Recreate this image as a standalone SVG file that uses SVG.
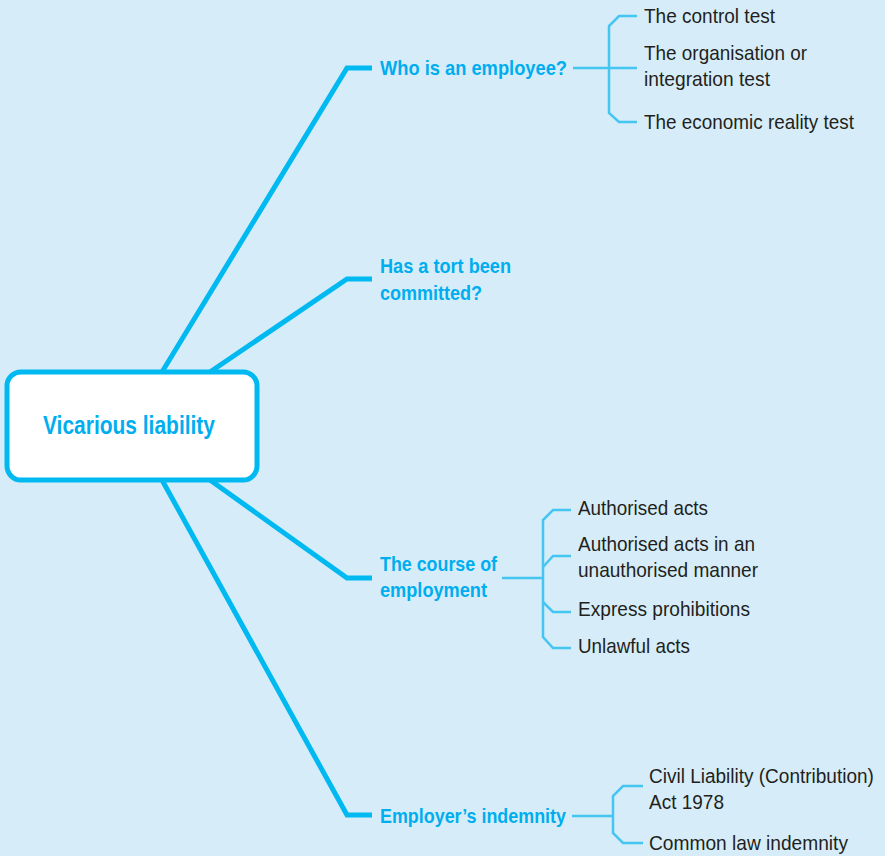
<svg xmlns="http://www.w3.org/2000/svg" width="885" height="856" viewBox="0 0 885 856">
<style>
.main{fill:none;stroke:#00b9f1;stroke-width:5;stroke-linejoin:miter}
.sub{fill:none;stroke:#45c5f2;stroke-width:2.5}
.h{font-family:"Liberation Sans Narrow","Liberation Sans",Arial,sans-serif;font-weight:bold;font-size:21px;fill:#00aeef}
.t{font-family:"Liberation Sans Narrow","Liberation Sans",Arial,sans-serif;font-size:21px;fill:#231f20}
.r{font-size:25px}
</style>
<rect x="0" y="0" width="885" height="856" fill="#d6edf9"/>
<g id="connectors">
<polyline class="main" points="162,372 347,68 372,68"/>
<polyline class="main" points="210,372 347,279 372,279"/>
<polyline class="main" points="210,480 347,578 372,578"/>
<polyline class="main" points="162,480 347,815 372,815"/>
<line class="sub" x1="573" y1="68" x2="637" y2="68"/>
<polyline class="sub" points="637,16 619,16 609,26 609,113 619,122 637,122"/>
<line class="sub" x1="502" y1="578" x2="543" y2="578"/>
<polyline class="sub" points="571,510 553,510 543,520 543,637 553,648 571,648"/>
<polyline class="sub" points="543,567 553,556 571,556"/>
<polyline class="sub" points="543,602 553,612 571,612"/>
<line class="sub" x1="572" y1="816" x2="613" y2="816"/>
<polyline class="sub" points="643,786 623,786 613,796 613,833 623,843 643,843"/>
</g>
<g id="root">
<rect x="7" y="372" width="250" height="108" rx="14" fill="#ffffff" stroke="#00b9f1" stroke-width="5"/>
<text class="h r" x="43" y="434" textLength="172" lengthAdjust="spacingAndGlyphs">Vicarious liability</text>
</g>
<g id="employee">
<text class="h" x="380" y="75" textLength="187" lengthAdjust="spacingAndGlyphs">Who is an employee?</text>
</g>
<g id="tort">
<text class="h" x="380" y="273" textLength="131" lengthAdjust="spacingAndGlyphs">Has a tort been</text>
<text class="h" x="380" y="300" textLength="102" lengthAdjust="spacingAndGlyphs">committed?</text>
</g>
<g id="course">
<text class="h" x="380" y="571" textLength="117" lengthAdjust="spacingAndGlyphs">The course of</text>
<text class="h" x="380" y="597" textLength="107" lengthAdjust="spacingAndGlyphs">employment</text>
</g>
<g id="indemnity">
<text class="h" x="380" y="823" textLength="186" lengthAdjust="spacingAndGlyphs">Employer’s indemnity</text>
</g>
<g id="control">
<text class="t" x="644" y="23" textLength="131" lengthAdjust="spacingAndGlyphs">The control test</text>
</g>
<g id="organisation">
<text class="t" x="644" y="60" textLength="163" lengthAdjust="spacingAndGlyphs">The organisation or</text>
<text class="t" x="644" y="86" textLength="126" lengthAdjust="spacingAndGlyphs">integration test</text>
</g>
<g id="economic">
<text class="t" x="644" y="129" textLength="210" lengthAdjust="spacingAndGlyphs">The economic reality test</text>
</g>
<g id="authorised">
<text class="t" x="578" y="515" textLength="130" lengthAdjust="spacingAndGlyphs">Authorised acts</text>
</g>
<g id="unauthorised">
<text class="t" x="578" y="551" textLength="177" lengthAdjust="spacingAndGlyphs">Authorised acts in an</text>
<text class="t" x="578" y="577" textLength="180" lengthAdjust="spacingAndGlyphs">unauthorised manner</text>
</g>
<g id="prohibitions">
<text class="t" x="578" y="616" textLength="172" lengthAdjust="spacingAndGlyphs">Express prohibitions</text>
</g>
<g id="unlawful">
<text class="t" x="578" y="653" textLength="112" lengthAdjust="spacingAndGlyphs">Unlawful acts</text>
</g>
<g id="civil">
<text class="t" transform="translate(649,783) scale(0.905,1)" x="0" y="0">Civil Liability (Contribution)</text>
<text class="t" x="649" y="809" textLength="75" lengthAdjust="spacingAndGlyphs">Act 1978</text>
</g>
<g id="common">
<text class="t" x="649" y="850" textLength="199" lengthAdjust="spacingAndGlyphs">Common law indemnity</text>
</g>
</svg>
